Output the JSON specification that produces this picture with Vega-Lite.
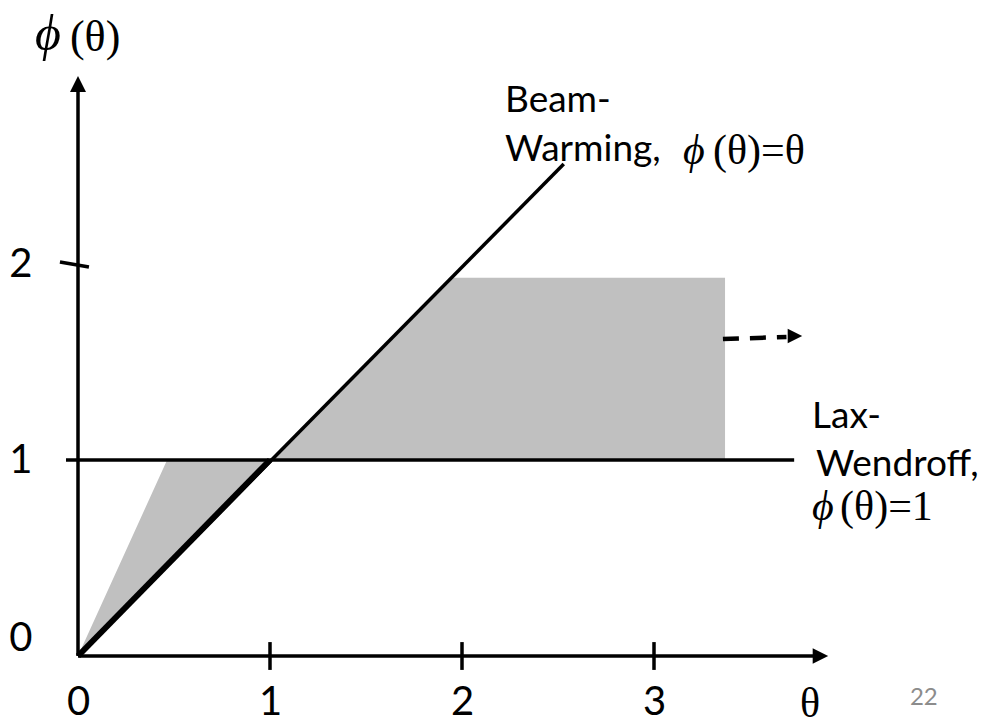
{
  "$schema": "https://vega.github.io/schema/vega-lite/v6.json",
  "autosize": {"type": "none"},
  "padding": {"left": 40, "top": 0, "right": 0, "bottom": 50},
  "width": 959,
  "height": 678,
  "background": "white",
  "config": {
    "view": {"stroke": null},
    "axis": {"grid": false, "domain": false, "ticks": false, "title": null, "labelFont": "Lato", "labelFontSize": 40, "labelColor": "black"}
  },
  "encoding": {
    "x": {"field": "t", "type": "quantitative", "scale": {"domain": [-0.197917, 4.796875], "nice": false, "zero": false},
          "axis": {"values": [0, 1, 2, 3], "labelPadding": 4, "labelBaseline": "top"}},
    "y": {"field": "p", "type": "quantitative", "scale": {"domain": [-0.112245, 3.346939], "nice": false, "zero": false},
          "axis": {"values": [0, 1, 2], "labelPadding": 8, "labelAlign": "right",
                   "labelOffset": {"condition": {"test": "datum.value === 0", "value": -18}, "value": 0}}}
  },
  "layer": [
    {
      "data": {"values": [
        {"t": 0, "p": 0, "p2": 0},
        {"t": 0.464, "p": 1, "p2": 0.464},
        {"t": 1, "p": 1, "p2": 1},
        {"t": 1.95, "p": 1.93, "p2": 1},
        {"t": 3.37, "p": 1.93, "p2": 1}
      ]},
      "mark": {"type": "area", "color": "#c0c0c0", "interpolate": "linear"},
      "encoding": {"y2": {"field": "p2"}}
    },
    {
      "data": {"values": [
        {"name": "beam-warming", "t": 0, "p": 0, "t2": 2.53, "p2": 2.51},
        {"name": "lax-wendroff", "t": -0.0625, "p": 1, "t2": 3.73, "p2": 1},
        {"name": "x-axis", "t": 0, "p": 0, "t2": 3.84, "p2": 0},
        {"name": "y-axis", "t": 0, "p": 0, "t2": 0, "p2": 2.88},
        {"name": "tick1", "t": 1, "p": -0.071, "t2": 1, "p2": 0.071},
        {"name": "tick2", "t": 2, "p": -0.071, "t2": 2, "p2": 0.071},
        {"name": "tick3", "t": 3, "p": -0.071, "t2": 3, "p2": 0.071},
        {"name": "ytick2", "t": -0.094, "p": 2.01, "t2": 0.057, "p2": 1.985}
      ]},
      "mark": {"type": "rule", "color": "black", "strokeWidth": 3.5},
      "encoding": {"x2": {"field": "t2"}, "y2": {"field": "p2"}}
    },
    {
      "data": {"values": [{"t": 0, "p": 0, "t2": 1, "p2": 1}]},
      "mark": {"type": "rule", "color": "black", "strokeWidth": 6},
      "encoding": {"x2": {"field": "t2"}, "y2": {"field": "p2"}}
    },
    {
      "data": {"values": [{"t": 3.359, "p": 1.617, "t2": 3.69, "p2": 1.628}]},
      "mark": {"type": "rule", "color": "black", "strokeWidth": 4.5, "strokeDash": [16, 11]},
      "encoding": {"x2": {"field": "t2"}, "y2": {"field": "p2"}}
    },
    {
      "data": {"values": [{"t": 3.867, "p": 0}]},
      "mark": {"type": "point", "shape": "M-1,-1L1,0L-1,1Z", "filled": true, "color": "black", "opacity": 1, "size": 240, "strokeWidth": 0}
    },
    {
      "data": {"values": [{"t": 3.734, "p": 1.633}]},
      "mark": {"type": "point", "shape": "M-1,-1L1,0L-1,1Z", "filled": true, "color": "black", "opacity": 1, "size": 210, "strokeWidth": 0}
    },
    {
      "data": {"values": [{"t": 0, "p": 2.918}]},
      "mark": {"type": "point", "shape": "M-1,1L0,-1L1,1Z", "filled": true, "color": "black", "opacity": 1, "size": 256, "strokeWidth": 0}
    },
    {
      "data": {"values": [
        {"label": "Beam-", "t": 2.224, "p": 2.776},
        {"label": "Warming,", "t": 2.224, "p": 2.526},
        {"label": "Lax-", "t": 3.823, "p": 1.163},
        {"label": "Wendroff,", "t": 3.844, "p": 0.918}
      ]},
      "mark": {"type": "text", "font": "Lato", "fontSize": 37, "align": "left", "baseline": "alphabetic", "color": "black"},
      "encoding": {"text": {"field": "label"}}
    },
    {
      "data": {"values": [
        {"label": "ϕ", "t": -0.224, "p": 3.092}
      ]},
      "mark": {"type": "text", "font": "Liberation Serif", "fontStyle": "italic", "fontSize": 50, "align": "left", "baseline": "alphabetic", "color": "black"},
      "encoding": {"text": {"field": "label"}}
    },
    {
      "data": {"values": [
        {"label": "ϕ", "t": 3.151, "p": 2.51},
        {"label": "ϕ", "t": 3.823, "p": 0.694}
      ]},
      "mark": {"type": "text", "font": "Liberation Serif", "fontStyle": "italic", "fontSize": 42, "align": "left", "baseline": "alphabetic", "color": "black"},
      "encoding": {"text": {"field": "label"}}
    },
    {
      "data": {"values": [
        {"label": "(θ)", "t": -0.042, "p": 3.087}
      ]},
      "mark": {"type": "text", "font": "Liberation Serif", "fontSize": 44, "align": "left", "baseline": "alphabetic", "color": "black"},
      "encoding": {"text": {"field": "label"}}
    },
    {
      "data": {"values": [
        {"label": "(θ)=θ", "t": 3.307, "p": 2.51},
        {"label": "(θ)=1", "t": 3.969, "p": 0.694}
      ]},
      "mark": {"type": "text", "font": "Liberation Serif", "fontSize": 42, "align": "left", "baseline": "alphabetic", "color": "black"},
      "encoding": {"text": {"field": "label"}}
    },
    {
      "data": {"values": [{"label": "θ", "t": 3.76, "p": -0.311}]},
      "mark": {"type": "text", "font": "Liberation Serif", "fontSize": 42, "align": "left", "baseline": "alphabetic", "color": "black"},
      "encoding": {"text": {"field": "label"}}
    },
    {
      "data": {"values": [{"label": "22", "t": 4.333, "p": -0.25}]},
      "mark": {"type": "text", "font": "Lato", "fontSize": 24, "align": "left", "baseline": "alphabetic", "color": "#8c8c8c"},
      "encoding": {"text": {"field": "label"}}
    }
  ]
}
